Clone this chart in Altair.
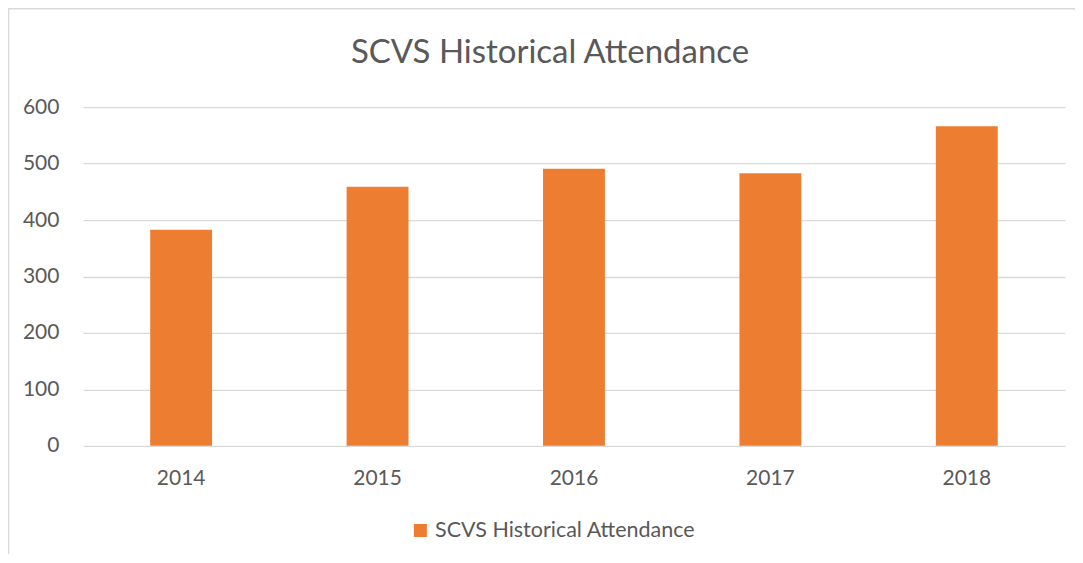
import altair as alt
import pandas as pd

years = ["2014", "2015", "2016", "2017", "2018"]
attendance = [383, 459, 491, 483, 566]
series_name = "SCVS Historical Attendance"
y_ticks = [0, 100, 200, 300, 400, 500, 600]

df = pd.DataFrame({
    "Year": years,
    "Attendance": attendance,
    "Series": [series_name] * len(years),
})

TEXT = "#595959"
GRID = "#d9d9d9"
ORANGE = "#ED7D31"
FONT = "Lato"

bars = alt.Chart(df).mark_bar(color=ORANGE).encode(
    x=alt.X(
        "Year:N",
        sort=years,
        scale=alt.Scale(paddingInner=0.685, paddingOuter=0.3425),
        axis=alt.Axis(
            title=None, labelAngle=0, domain=False, ticks=False, tickSize=0,
            labelFontSize=21, labelColor=TEXT, labelFont=FONT, labelPadding=22,
        ),
    ),
    y=alt.Y(
        "Attendance:Q",
        scale=alt.Scale(domain=[0, 600], nice=False),
        axis=alt.Axis(
            title=None, values=y_ticks, domain=False, ticks=False, tickSize=0,
            grid=True, gridColor=GRID, gridWidth=1.3,
            labelFontSize=21, labelColor=TEXT, labelFont=FONT, labelPadding=24,
        ),
    ),
    color=alt.Color(
        "Series:N",
        scale=alt.Scale(domain=[series_name], range=[ORANGE]),
        legend=alt.Legend(
            title=None, orient="none", legendX=327, legendY=413,
            symbolType="square", symbolSize=169, symbolStrokeWidth=0,
            labelFontSize=21.5, labelColor=TEXT, labelFont=FONT, labelOffset=4,
            labelLimit=400,
        ),
    ),
)

frame_df = pd.DataFrame({"k": [0]})
frame = alt.Chart(frame_df).mark_rect(
    fill=None, stroke=GRID, strokeWidth=1.5, clip=False
).encode(
    x=alt.value(-74.5), x2=alt.value(1010), y=alt.value(-98.5), y2=alt.value(480)
)

chart = alt.layer(frame, bars).properties(
    width=983,
    height=339,
    padding={"left": 75, "top": 99, "right": 10, "bottom": 108},
    autosize=alt.AutoSizeParams(type="none"),
    title=alt.Title(
        series_name, fontSize=33, color=TEXT, font=FONT, fontWeight="normal",
        anchor="middle", frame="group", dx=-24, offset=-88.5, baseline="alphabetic",
    ),
).configure_view(stroke=None)

chart.save("out.html", embed_options={"renderer": "svg", "actions": False})
